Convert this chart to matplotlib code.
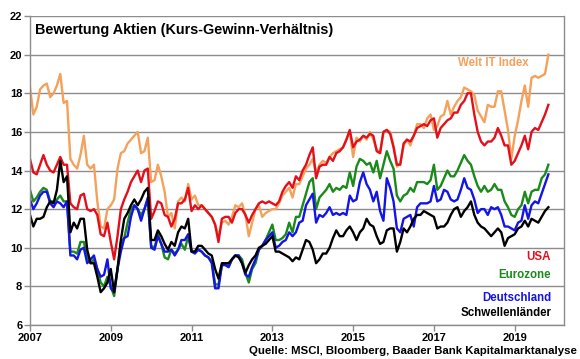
import numpy as np
import matplotlib
matplotlib.use("Agg")
import matplotlib.pyplot as plt

plt.rcParams['font.family'] = ['Liberation Sans', 'DejaVu Sans']

# monthly KGV, Jan 2007 .. Nov 2019 (one row per year)
welt_it = [18.3, 16.9, 17.3, 18.2, 18.4, 18.5, 17.8, 18.0, 18.4, 19.0, 17.5, 17.6,
           14.6, 14.3, 14.1, 14.8, 15.8, 14.3, 14.1, 14.3, 12.4, 11.1, 11.0, 12.0,
           12.2, 12.5, 14.1, 14.9, 15.0, 15.4, 15.6, 15.8, 16.0, 14.9, 15.0, 15.7,
           13.4, 13.5, 14.3, 13.7, 12.9, 11.6, 11.8, 11.0, 12.4, 12.6, 12.4, 13.3,
           12.5, 12.7, 12.2, 12.2, 12.0, 11.8, 11.6, 11.2, 10.6, 11.3, 11.4, 11.2,
           11.6, 12.2, 12.1, 12.3, 11.7, 10.6, 11.3, 12.0, 12.2, 11.6, 11.8, 11.9,
           12.0, 12.0, 12.3, 12.7, 12.9, 13.1, 12.6, 13.3, 13.3, 13.7, 14.1, 14.3,
           14.6, 13.9, 14.3, 14.5, 14.4, 14.7, 14.9, 15.0, 15.1, 15.2, 15.6, 16.0,
           14.7, 15.7, 15.5, 15.8, 15.6, 16.0, 15.6, 15.1, 14.9, 16.0, 16.1, 16.0,
           15.3, 14.2, 14.4, 15.3, 15.6, 15.3, 15.8, 16.4, 16.4, 16.2, 16.7, 16.9,
           16.1, 16.3, 16.8, 16.9, 17.6, 16.9, 17.3, 17.6, 17.8, 18.3, 18.2, 18.1,
           17.9, 17.1, 16.8, 16.5, 17.4, 17.3, 17.3, 18.1, 18.1, 17.1, 16.1, 14.6,
           15.8, 16.6, 17.6, 18.4, 17.3, 18.8, 18.9, 18.8, 18.9, 19.0, 20.0]

usa = [14.6, 13.9, 13.8, 14.3, 14.8, 14.3, 14.0, 13.9, 14.3, 14.7, 14.3, 14.3,
       12.3, 12.1, 12.0, 12.7, 12.8, 12.0, 11.9, 12.0, 11.7, 10.7, 10.6, 11.3,
       10.3, 9.4, 10.6, 12.0, 12.5, 12.9, 13.4, 13.7, 14.0, 13.4, 14.0, 14.1,
       11.5, 11.9, 12.4, 12.3, 11.7, 11.6, 11.1, 11.5, 12.3, 12.3, 12.5, 13.1,
       11.9, 12.2, 12.0, 12.2, 12.0, 11.8, 11.6, 11.2, 10.3, 11.5, 11.6, 11.6,
       11.3, 11.8, 12.0, 12.0, 11.7, 11.3, 11.7, 12.0, 12.3, 12.4, 12.3, 12.4,
       12.3, 12.2, 12.4, 12.9, 13.2, 13.4, 13.1, 13.7, 13.5, 14.0, 14.3, 14.8,
       15.2, 13.6, 14.2, 14.3, 14.3, 14.7, 14.5, 14.9, 15.0, 15.2, 15.6, 16.1,
       15.2, 15.5, 15.6, 15.8, 15.7, 15.9, 15.8, 15.0, 14.9, 16.0, 16.1, 15.9,
       15.2, 14.3, 14.3, 15.4, 15.6, 15.5, 15.8, 16.2, 16.3, 16.4, 16.3, 16.6,
       16.7, 15.7, 16.2, 16.4, 16.6, 16.7, 17.0, 17.0, 17.4, 17.6, 18.0, 18.0,
       16.9, 16.0, 15.5, 15.3, 15.5, 15.5, 15.7, 16.2, 15.8, 15.3, 15.3, 14.3,
       14.5, 14.9, 15.3, 15.8, 15.1, 16.0, 16.2, 16.1, 16.5, 16.9, 17.4]

eurozone = [13.0, 12.4, 12.6, 12.9, 13.1, 13.0, 12.4, 12.4, 12.5, 12.7, 12.4, 12.4,
            9.8, 9.8, 9.7, 10.3, 10.3, 9.5, 9.2, 9.4, 8.9, 8.2, 8.0, 8.5,
            8.0, 7.5, 8.9, 10.3, 10.5, 11.3, 12.0, 12.2, 12.0, 11.7, 12.0, 12.5,
            10.1, 10.0, 10.7, 10.2, 9.5, 9.4, 9.9, 9.7, 9.9, 10.2, 9.9, 10.6,
            9.8, 9.8, 9.9, 9.8, 9.6, 9.5, 9.3, 8.1, 8.1, 9.1, 9.2, 9.0,
            9.4, 9.6, 9.6, 9.4, 8.7, 8.2, 8.9, 9.2, 9.9, 10.1, 10.4, 10.8,
            11.2, 10.4, 10.4, 10.5, 10.7, 11.3, 10.8, 11.6, 11.6, 12.2, 12.8, 13.4,
            13.6, 12.0, 12.6, 12.8, 13.0, 13.3, 12.9, 13.1, 13.0, 13.2, 13.1, 13.9,
            13.2, 14.2, 14.6, 14.5, 14.3, 14.4, 13.9, 14.5, 13.6, 14.3, 15.0, 14.5,
            14.1, 12.7, 12.4, 12.7, 12.8, 13.1, 12.9, 13.4, 13.4, 13.4, 13.3, 13.5,
            14.3, 13.0, 13.2, 13.6, 14.0, 13.7, 13.7, 14.0, 14.4, 14.8, 14.5, 14.3,
            13.7, 13.2, 12.9, 13.2, 12.9, 13.0, 13.3, 13.0, 13.0, 12.4, 12.1, 11.7,
            11.6, 12.0, 12.2, 12.9, 12.3, 12.9, 13.0, 13.0, 13.6, 13.8, 14.3]

deutschland = [12.5, 12.0, 12.3, 12.7, 12.9, 12.9, 12.3, 12.1, 12.4, 12.3, 12.1, 12.4,
               9.6, 9.6, 9.4, 9.9, 10.0, 9.2, 9.4, 9.6, 8.9, 8.5, 8.6, 9.4,
               7.9, 7.7, 8.9, 9.8, 10.5, 10.6, 11.6, 12.2, 12.0, 11.4, 12.0, 12.6,
               10.0, 9.9, 10.6, 10.2, 9.8, 9.8, 9.9, 9.6, 9.9, 10.4, 10.4, 10.7,
               9.8, 9.7, 9.9, 9.8, 9.6, 9.5, 9.2, 7.9, 7.9, 9.1, 9.1, 9.0,
               9.4, 9.6, 9.6, 9.2, 8.6, 8.5, 9.0, 9.4, 9.9, 10.1, 10.4, 10.6,
               10.8, 10.0, 10.1, 10.3, 10.4, 10.8, 10.6, 10.8, 11.3, 11.4, 12.2, 12.5,
               12.8, 11.3, 11.7, 11.6, 11.8, 12.1, 11.7, 11.8, 11.7, 11.8, 11.7, 12.7,
               12.4, 12.5, 13.4, 13.9, 13.3, 13.0, 12.4, 12.9, 11.9, 11.4, 13.6, 13.1,
               12.4, 11.0, 10.8, 11.5, 11.6, 11.7, 11.1, 12.1, 12.3, 12.3, 12.3, 12.4,
               13.2, 12.4, 12.5, 13.0, 12.9, 12.5, 12.4, 12.5, 13.0, 13.6, 13.1, 13.0,
               12.5, 11.8, 12.0, 12.0, 11.7, 12.1, 12.0, 12.1, 11.7, 11.1, 11.1, 11.0,
               10.9, 11.3, 11.4, 12.2, 11.5, 12.2, 12.4, 12.3, 12.8, 13.3, 13.8]

schwellen = [11.7, 11.1, 11.5, 11.5, 11.6, 12.1, 12.4, 12.3, 13.0, 14.5, 13.4, 13.7,
             10.8, 11.3, 11.0, 11.5, 11.5, 9.9, 9.2, 9.2, 8.5, 7.7, 7.9, 8.2,
             8.9, 7.7, 8.9, 10.4, 11.5, 11.8, 12.2, 12.5, 12.2, 12.5, 12.9, 13.1,
             10.4, 10.4, 10.9, 10.6, 10.2, 9.9, 10.3, 10.1, 10.8, 11.1, 11.0, 11.5,
             9.8, 9.8, 10.1, 10.1, 9.9, 9.7, 9.6, 8.9, 8.4, 9.2, 9.2, 9.2,
             9.4, 9.6, 9.5, 9.2, 8.7, 9.1, 9.4, 9.6, 10.0, 10.1, 10.2, 10.4,
             10.6, 9.8, 9.8, 9.7, 9.6, 9.5, 9.3, 9.5, 9.4, 9.9, 10.4, 10.3,
             9.9, 9.2, 9.4, 9.7, 9.7, 10.0, 10.5, 10.9, 10.6, 10.6, 10.9, 11.1,
             10.8, 10.4, 10.8, 11.0, 11.5, 11.2, 11.1, 10.6, 10.2, 10.3, 10.9, 11.0,
             11.0, 9.8, 10.3, 11.0, 10.8, 11.1, 11.5, 11.7, 11.7, 11.9, 11.8, 11.7,
             11.6, 11.0, 11.1, 11.1, 11.3, 11.7, 12.0, 12.1, 11.6, 11.9, 12.1, 12.4,
             11.7, 11.3, 11.1, 11.0, 10.8, 10.6, 10.8, 11.0, 10.8, 10.1, 10.5, 10.6,
             10.7, 11.0, 11.1, 11.4, 11.1, 11.5, 11.4, 11.3, 11.6, 11.9, 12.1]

years = [2007, 2009, 2011, 2013, 2015, 2017, 2019]

t = 2007 + np.arange(len(usa)) / 12.0

fig = plt.figure(figsize=(5.8, 3.59), dpi=100)
ax = fig.add_axes([0.0517, 0.0947, 0.9207, 0.8607])

grid_c = '#8c8c8c'
ax.set_ylim(6, 22)
ax.set_xlim(2007, 2020.22)
ax.set_yticks(range(6, 23, 2))
ax.set_xticks(years)
ax.set_xticklabels([str(y) for y in years])
ax.yaxis.grid(True, color=grid_c, lw=1.0)
ax.set_axisbelow(True)
for s in ['left', 'bottom', 'right']:
    ax.spines[s].set_color(grid_c)
    ax.spines[s].set_linewidth(1.0)
ax.spines['top'].set_visible(False)
ax.tick_params(axis='both', colors=grid_c, length=4, width=1.0, labelsize=8,
               labelcolor='black', pad=1.5)
for lab in ax.get_xticklabels() + ax.get_yticklabels():
    lab.set_fontweight('bold')

lw = 1.7
ax.plot(t, welt_it, color='#F4A15C', lw=lw)
ax.plot(t, usa, color='#E3101C', lw=lw)
ax.plot(t, eurozone, color='#1A8A1A', lw=lw)
ax.plot(t, deutschland, color='#1414E6', lw=lw)
ax.plot(t, schwellen, color='black', lw=lw)

ax.text(2007.13, 21.3, 'Bewertung Aktien (Kurs-Gewinn-Verhältnis)', fontsize=10.4,
        fontweight='bold', va='center', ha='left')
lab_fs = 8.3
ax.text(2019.35, 19.55, 'Welt IT Index', color='#F4A15C', fontsize=lab_fs,
        fontweight='bold', ha='right', va='center')
ax.text(2019.9, 9.5, 'USA', color='#E3101C', fontsize=lab_fs, fontweight='bold',
        ha='right', va='center')
ax.text(2019.9, 8.58, 'Eurozone', color='#1A8A1A', fontsize=lab_fs, fontweight='bold',
        ha='right', va='center')
ax.text(2019.9, 7.39, 'Deutschland', color='#1414E6', fontsize=lab_fs, fontweight='bold',
        ha='right', va='center')
ax.text(2019.9, 6.61, 'Schwellenländer', color='black', fontsize=lab_fs, fontweight='bold',
        ha='right', va='center')

fig.text(0.995, 0.022, 'Quelle: MSCI, Bloomberg, Baader Bank Kapitalmarktanalyse',
         fontsize=8.2, fontweight='bold', ha='right', va='center')

fig.savefig('out.png', dpi=100)
